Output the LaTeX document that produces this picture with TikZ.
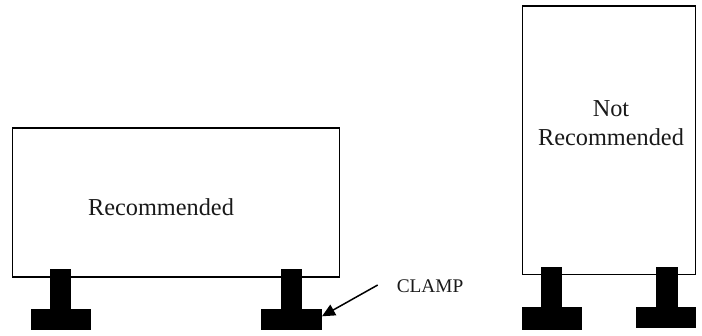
\documentclass[tikz,border=0pt]{standalone}
\usetikzlibrary{arrows.meta}
\usepackage{fontspec}
\setmainfont{Liberation Serif}
\begin{document}
\begin{tikzpicture}[x=1pt,y=-1pt,
  panel/.style={draw=black,line width=1.5pt,fill=white,rectangle,inner sep=0pt,outer sep=0pt},
  clamppart/.style={fill=black,rectangle,inner sep=0pt,outer sep=0pt},
  bigtext/.style={font=\fontsize{24.3}{29}\selectfont,inner sep=0pt,align=center,text=black!90},
  smalltext/.style={font=\fontsize{19.3}{23}\selectfont,inner sep=0pt,text=black!90},
  pointer/.style={-{Triangle[length=13pt,width=12pt]},line width=1.5pt}
]
\useasboundingbox (0,0) rectangle (702,335);
% panels
\node[panel,minimum width=327.4pt,minimum height=149pt] (recpanel) at (176,202.5) {};
\node[panel,minimum width=172.6pt,minimum height=268.7pt] (notpanel) at (609,140.3) {};
% clamps
\node[clamppart,minimum width=21pt,minimum height=41pt] (stemA) at (60.8,289.5) {};
\node[clamppart,minimum width=60pt,minimum height=21pt] (footA) at (61.3,319.5) {};
\node[clamppart,minimum width=21.3pt,minimum height=41pt] (stemB) at (291.3,289.5) {};
\node[clamppart,minimum width=61pt,minimum height=21pt] (footB) at (291.5,319.5) {};
\node[clamppart,minimum width=21.3pt,minimum height=41pt] (stemC) at (551.3,287.7) {};
\node[clamppart,minimum width=60pt,minimum height=23.3pt] (footC) at (551.7,318.35) {};
\node[clamppart,minimum width=22pt,minimum height=41pt] (stemD) at (666.7,287.7) {};
\node[clamppart,minimum width=60pt,minimum height=21.6pt] (footD) at (666.3,317.5) {};
% labels
\node[bigtext] (rectext) at (161,207.5) {Recommended};
\node[bigtext] (nottext) at (611,123) {Not\\[0pt]Recommended};
\node[smalltext] (clamptext) at (430,286.5) {CLAMP};
% pointer
\coordinate (pointerstart) at (377.7,285);
\draw[pointer] (pointerstart) -- (footB.6.5);
\end{tikzpicture}
\end{document}
